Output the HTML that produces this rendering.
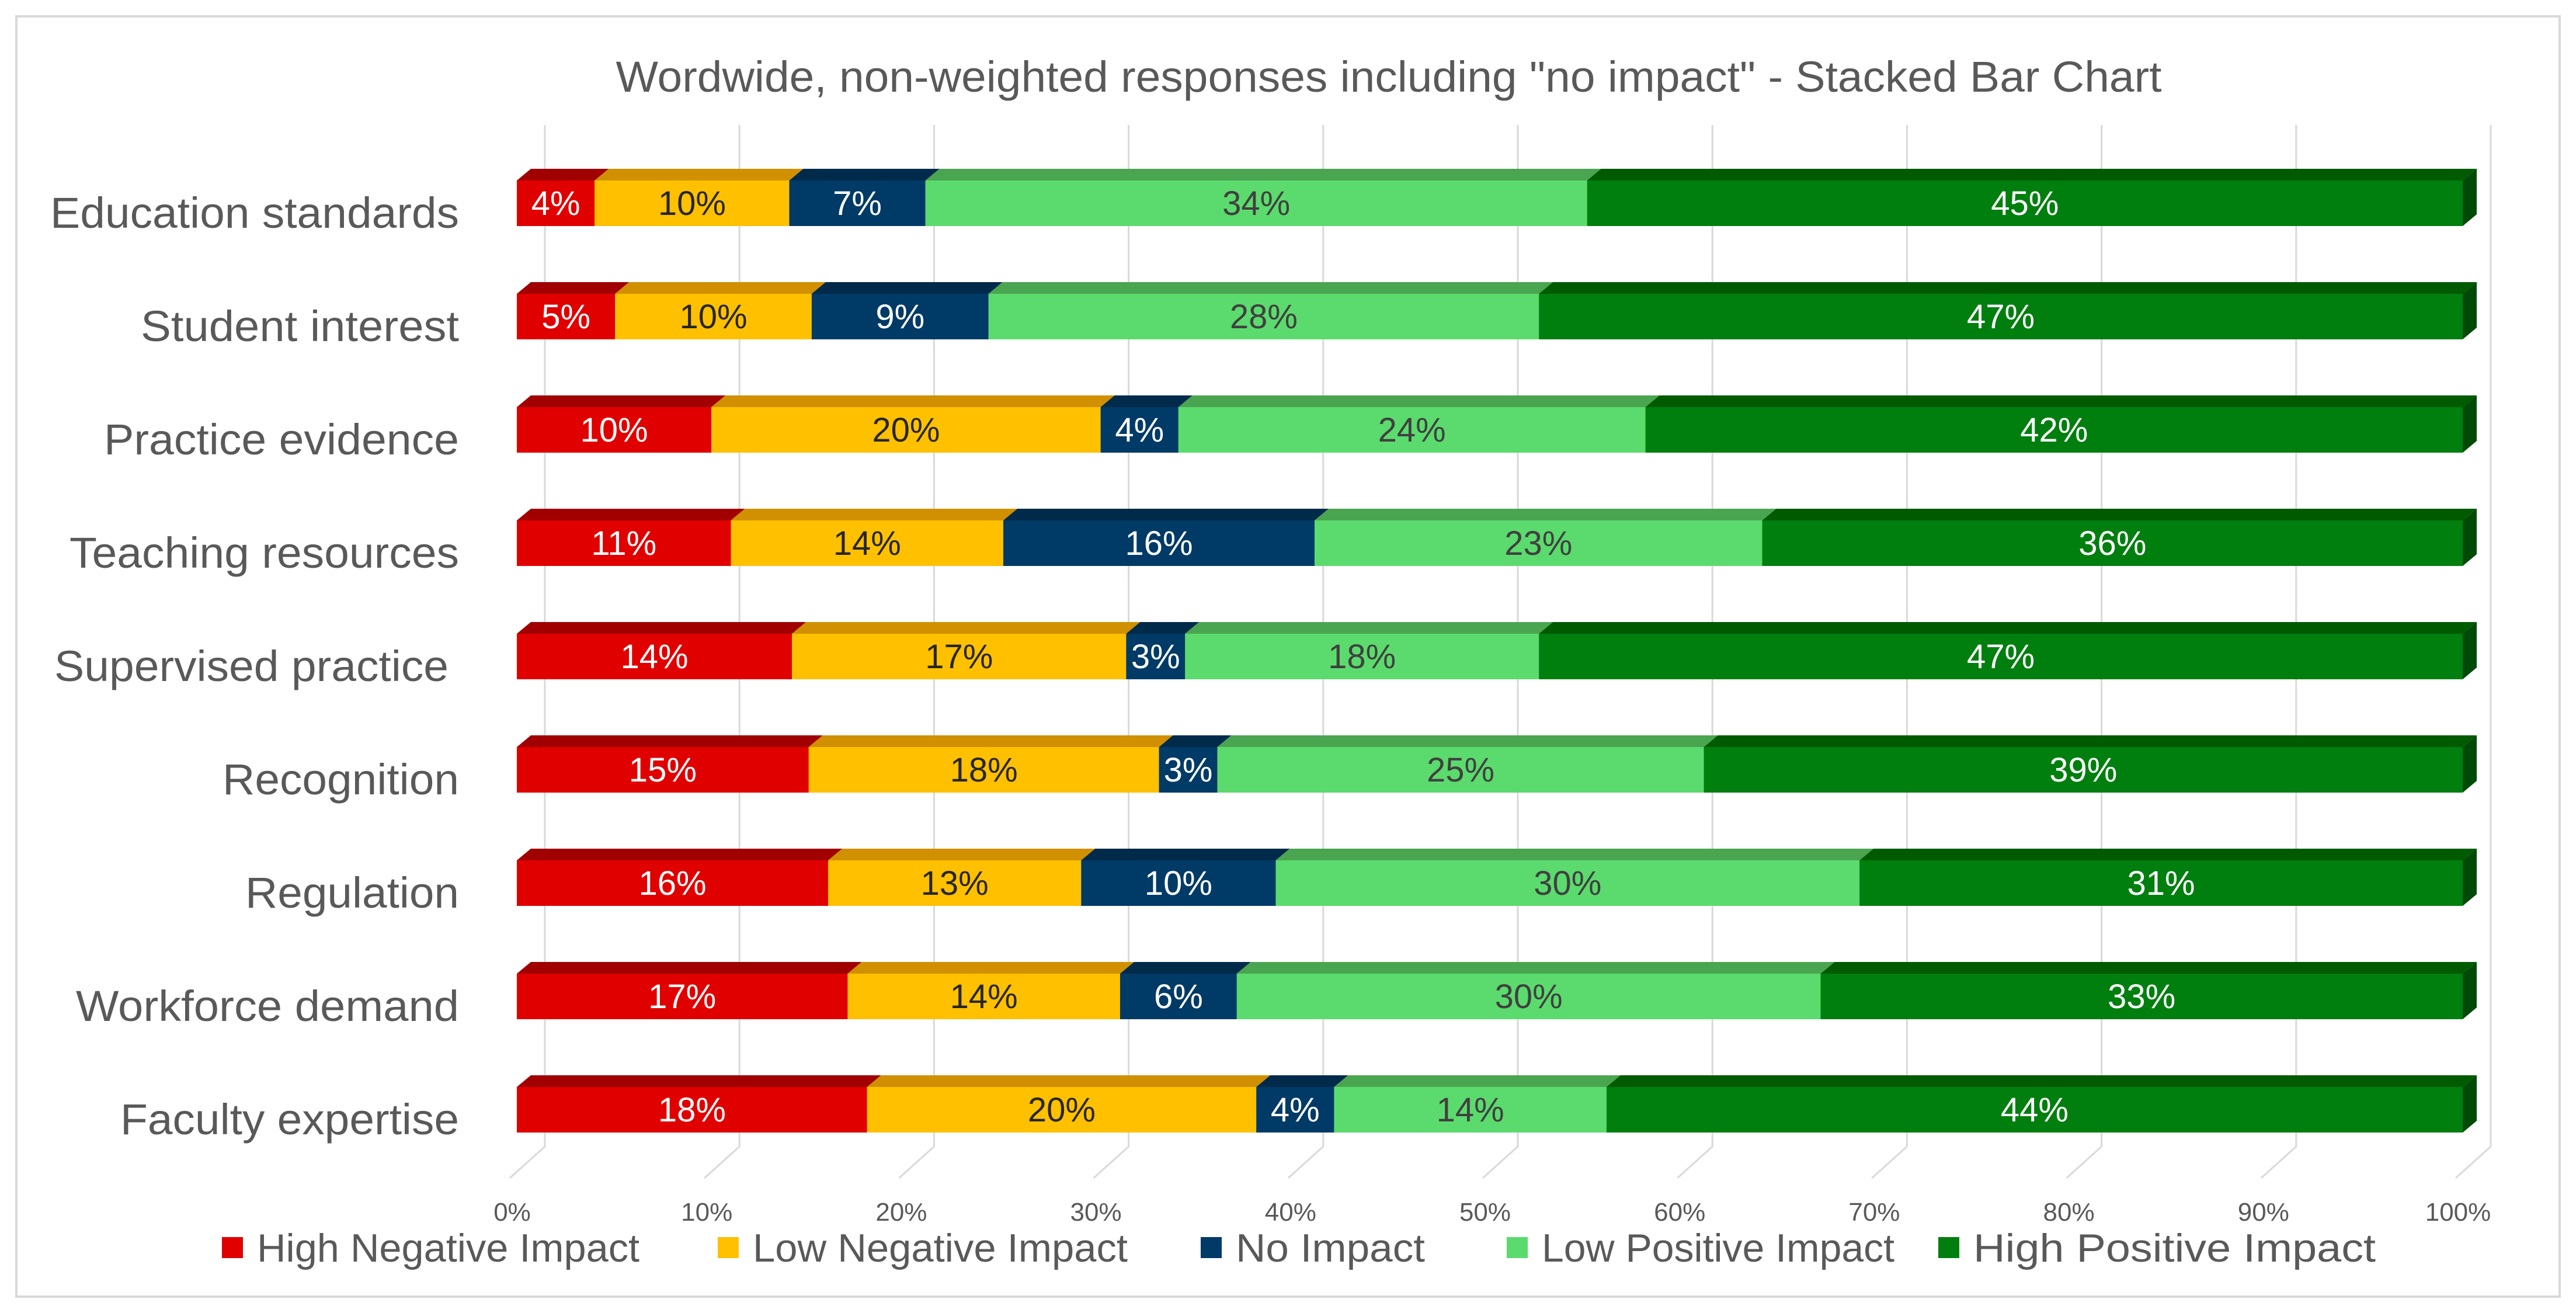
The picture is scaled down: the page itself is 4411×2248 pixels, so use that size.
<!DOCTYPE html>
<html><head><meta charset="utf-8"><style>
html,body{margin:0;padding:0;background:#fff;}
svg{display:block;font-family:"Liberation Sans Narrow","Liberation Sans",sans-serif;}
</style></head><body>
<svg id="chart" width="4411" height="2248" viewBox="0 0 4411 2248" xmlns="http://www.w3.org/2000/svg">
<rect x="28" y="28" width="4355" height="2192" fill="#fff" stroke="#d9d9d9" stroke-width="4"/>
<text x="2378" y="157" text-anchor="middle" font-size="74" fill="#595959" textLength="2647" lengthAdjust="spacingAndGlyphs">Wordwide, non-weighted responses including "no impact" - Stacked Bar Chart</text>
<g id="grid"></g><g id="bars"></g><g id="ticks"></g><g id="legend"></g>
</svg>
<script>
const categories=["Education standards","Student interest","Practice evidence","Teaching resources","Supervised practice","Recognition","Regulation","Workforce demand","Faculty expertise"];
const highNeg=[4,5,10,11,14,15,16,17,18];
const lowNeg=[10,10,20,14,17,18,13,14,20];
const noImp=[7,9,4,16,3,3,10,6,4];
const lowPos=[34,28,24,23,18,25,30,30,14];
const highPos=[45,47,42,36,47,39,31,33,44];
const tickLabels=["0%","10%","20%","30%","40%","50%","60%","70%","80%","90%","100%"];
const seriesNames=["High Negative Impact","Low Negative Impact","No Impact","Low Positive Impact","High Positive Impact"];
const labelWidths=[700,545,608,667,675,405,366,656,580];
const NS="http://www.w3.org/2000/svg";
const series=[highNeg,lowNeg,noImp,lowPos,highPos];
const frontColors=["#e00000","#ffc000","#003a66","#5bdb6d","#007f0e"];
const topColors=["#a00000","#d09000","#002a4a","#4aa550","#005a00"];
const txtColors=["#ffffff","#262626","#ffffff","#404040","#ffffff"];
const slugs=["high-negative","low-negative","no-impact","low-positive","high-positive"];
const X0=885,W=3332,ROW0=309,PITCH=194,BH=78,DX=24,DY=20;
function xs(v){return X0+v/100*W;}
function ys(i){return ROW0+i*PITCH;}
function mk(tag,attrs,parent){const e=document.createElementNS(NS,tag);for(const k in attrs)e.setAttribute(k,attrs[k]);parent.appendChild(e);return e;}
const gridG=document.getElementById('grid'),barsG=document.getElementById('bars'),ticksG=document.getElementById('ticks'),legendG=document.getElementById('legend');
tickLabels.forEach((t,k)=>{
  const gx=xs(k*10)+48;
  const l=mk('polyline',{points:`${gx},214 ${gx},1963 ${gx-60},2017`,fill:'none',stroke:'#d9d9d9','stroke-width':3},gridG);
  
  
  const tx=mk('text',{x:xs(k*10)-8,y:2090,'text-anchor':'middle','font-size':44,fill:'#595959'},ticksG);
  tx.textContent=t;
  
  
});
categories.forEach((c,i)=>{
  const yt=ys(i);
  const lab=mk('text',{x:(i==4?768:786),y:yt+BH/2+42,'text-anchor':'end','font-size':74,fill:'#595959',textLength:labelWidths[i],lengthAdjust:'spacingAndGlyphs'},barsG);
  lab.textContent=c;
  
  
  const total=series.reduce((a,s)=>a+s[i],0);
  let cum=0;
  series.forEach((s,j)=>{
    const v=s[i],x1=xs(cum/total*100),x2=xs((cum+v)/total*100);cum+=v;
    const g=mk('g',{},barsG);
    
    
    mk('polygon',{points:`${x1},${yt} ${x1+DX},${yt-DY} ${x2+DX},${yt-DY} ${x2},${yt}`,fill:topColors[j]},g);
    mk('rect',{x:x1,y:yt,width:x2-x1,height:BH,fill:frontColors[j]},g);
    if(j==4) mk('polygon',{points:`${x2},${yt} ${x2+DX},${yt-DY} ${x2+DX},${yt+BH-DY} ${x2},${yt+BH}`,fill:'#004a08'},g);
    const t=mk('text',{x:(x1+x2)/2,y:yt+BH/2+20,'text-anchor':'middle','font-size':58,fill:txtColors[j]},g);
    t.textContent=v+'%';
  });
});
const legX=[380,1229,2056,2580,3319],legW=[655,642,324,604,689];
seriesNames.forEach((n,j)=>{
  const g=mk('g',{},legendG);
  
  
  mk('rect',{x:legX[j],y:2118,width:36,height:36,fill:frontColors[j]},g);
  const t=mk('text',{x:legX[j]+60,y:2160,'font-size':68,fill:'#595959',textLength:legW[j],lengthAdjust:'spacingAndGlyphs'},g);
  t.textContent=n;
});
</script>
</body></html>
